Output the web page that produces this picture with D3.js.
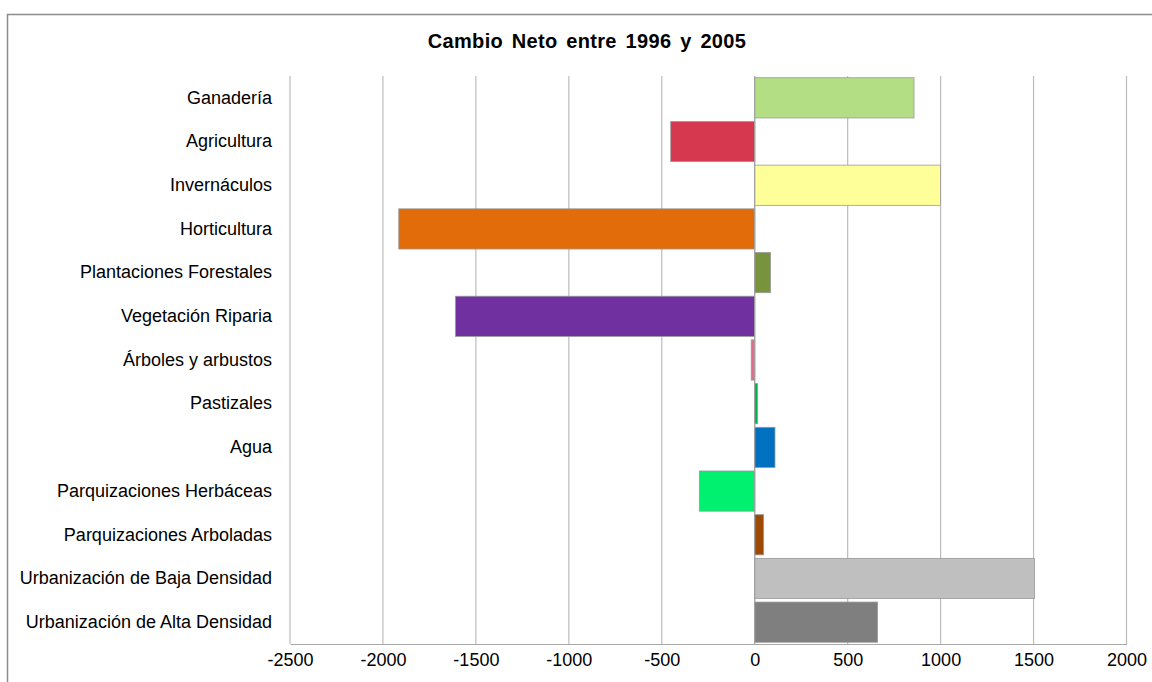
<!DOCTYPE html>
<html>
<head>
<meta charset="utf-8">
<script src="https://cdn.jsdelivr.net/npm/d3@7"></script>
<style>
  html, body { margin: 0; padding: 0; background: #fff; }
  svg { display: block; font-family: Arial, "Liberation Sans", sans-serif; }
</style>
</head>
<body>
<svg id="chart" width="1152" height="682"></svg>
<script>
// Net land-cover change between 1996 and 2005, by class
const categories = [
  "Ganadería", "Agricultura", "Invernáculos", "Horticultura",
  "Plantaciones Forestales", "Vegetación Riparia", "Árboles y arbustos",
  "Pastizales", "Agua", "Parquizaciones Herbáceas", "Parquizaciones Arboladas",
  "Urbanización de Baja Densidad", "Urbanización de Alta Densidad"
];
const netChange = [857, -452, 999, -1915, 85, -1610, -19, 15, 109, -298, 48, 1505, 661];
const barColors = [
  "#b3de84", "#d63850", "#ffff99", "#e36c0a", "#77933c", "#7030a0", "#e46c8a",
  "#00b050", "#0070c0", "#00f070", "#9c4a06", "#bfbfbf", "#7f7f7f"
];
const xTicks = [-2500, -2000, -1500, -1000, -500, 0, 500, 1000, 1500, 2000];
const title = "Cambio Neto entre 1996 y 2005";

const svg = d3.select("#chart");
const plot = { left: 290, right: 1126.5, top: 76, bottom: 644 };

// outer chart frame
svg.append("rect")
  .attr("x", 7.5).attr("y", 14.5)
  .attr("width", 1200).attr("height", 800)
  .attr("fill", "#fff").attr("stroke", "#8c8c8c").attr("stroke-width", 1.5);

const x = d3.scaleLinear().domain([-2500, 2000]).range([plot.left, plot.right]);
const y = d3.scaleBand().domain(categories).range([plot.top, plot.bottom])
  .paddingInner(0.08).paddingOuter(0.04);

// vertical gridlines
svg.append("g").selectAll("line").data(xTicks).join("line")
  .attr("x1", d => x(d)).attr("x2", d => x(d))
  .attr("y1", plot.top).attr("y2", plot.bottom)
  .attr("stroke", "#bcbcbc").attr("stroke-width", 1.2);

// bars
svg.append("g").selectAll("rect").data(netChange).join("rect")
  .attr("x", d => x(Math.min(0, d)))
  .attr("width", d => Math.abs(x(d) - x(0)))
  .attr("y", (d, i) => y(categories[i]))
  .attr("height", y.bandwidth())
  .attr("fill", (d, i) => barColors[i])
  .attr("stroke", "#9a9a9a").attr("stroke-width", 0.8);

// category axis at zero
svg.append("line")
  .attr("x1", x(0)).attr("x2", x(0))
  .attr("y1", plot.top).attr("y2", plot.bottom)
  .attr("stroke", "#a0a0a0").attr("stroke-width", 1);

// bottom value axis (plain hyphen for negatives)
const xAxis = svg.append("g")
  .attr("transform", `translate(0,${plot.bottom})`)
  .call(d3.axisBottom(x).tickValues(xTicks).tickSize(0).tickPadding(9)
    .tickFormat(d => String(d)));
xAxis.select(".domain").attr("stroke", "#a8a8a8").attr("stroke-width", 1.2);
xAxis.selectAll("text")
  .attr("font-size", 18).attr("fill", "#000")
  .attr("font-family", "Arial, 'Liberation Sans', sans-serif");

// category labels
const yAxis = svg.append("g")
  .attr("transform", `translate(${plot.left},0)`)
  .call(d3.axisLeft(y).tickSize(0).tickPadding(18));
yAxis.select(".domain").remove();
yAxis.selectAll("text")
  .attr("font-size", 18).attr("fill", "#000")
  .attr("font-family", "Arial, 'Liberation Sans', sans-serif");

// title
svg.append("text")
  .attr("x", 587).attr("y", 48)
  .attr("text-anchor", "middle")
  .attr("font-size", 20).attr("font-weight", "bold")
  .attr("letter-spacing", 0.3).attr("word-spacing", 3)
  .attr("fill", "#000")
  .text(title);
</script>
</body>
</html>
